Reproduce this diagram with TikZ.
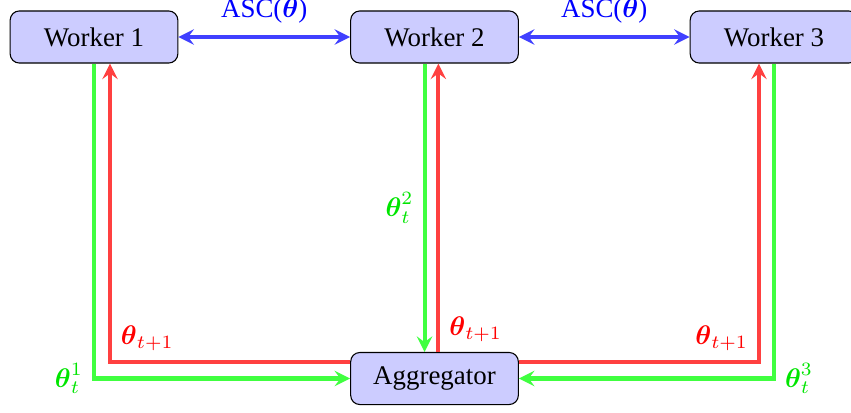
\documentclass[tikz,border=0pt]{standalone}
\usepackage{amsmath}
\usepackage{fontspec}
\setmainfont{Liberation Serif}
\usetikzlibrary{arrows}

\begin{document}
\begin{tikzpicture}[x=0.01306cm, y=-0.01306cm]
  \tikzset{
      > = stealth,
      box/.style = {
          draw, fill = blue!20,
          rounded corners = 0.12cm,
          minimum width = 2.19cm,
          minimum height = 0.68cm,
          inner sep = 0pt
      },
      push/.style = {
          ->, draw = green!75, line width = 1.5pt
      },
      pull/.style = {
          ->, draw = red!75, line width = 1.5pt
      },
      gossip/.style = {
          <->, draw = blue!75, line width = 1.5pt
      },
      pushlbl/.style = {text = green!90!black},
      pulllbl/.style = {text = red},
      gossiplbl/.style = {text = blue}
  }
  \useasboundingbox (0,0) rectangle (851,412);
  \node[box] (w1) at (94,37) {Worker 1};
  \node[box] (w2) at (434.5,37) {Worker 2};
  \node[box] (w3) at (774,37) {Worker 3};
  \node[box] (agg) at (434.5,378.5) {Aggregator};
  \path (w1) edge[gossip] node[gossiplbl, above=1pt] {ASC($\boldsymbol{\theta}$)} (w2);
  \path (w2) edge[gossip] node[gossiplbl, above=1pt] {ASC($\boldsymbol{\theta}$)} (w3);
  % worker 1
  \draw[push] (w1.south) |- (agg.west)
      node[pushlbl, pos=0.5, left] {$\boldsymbol{\theta}_t^1$};
  \draw[pull] ([yshift=0.215cm]agg.west) -| ([xshift=0.209cm]w1.south)
      node[pulllbl, pos=0.5, above right] {$\boldsymbol{\theta}_{t+1}$};
  % worker 2
  \draw[push] ([xshift=-0.13cm]w2.south) -- ([xshift=-0.13cm]agg.north)
      node[pushlbl, midway, left] {$\boldsymbol{\theta}_t^2$};
  \draw[pull] ([xshift=0.05cm]agg.north) -- ([xshift=0.05cm]w2.south)
      node[pulllbl, pos=0.08, right] {$\boldsymbol{\theta}_{t+1}$};
  % worker 3
  \draw[push] (w3.south) |- (agg.east)
      node[pushlbl, pos=0.5, right] {$\boldsymbol{\theta}_t^3$};
  \draw[pull] ([yshift=0.215cm]agg.east) -| ([xshift=-0.196cm]w3.south)
      node[pulllbl, pos=0.5, above left] {$\boldsymbol{\theta}_{t+1}$};
\end{tikzpicture}
\end{document}
